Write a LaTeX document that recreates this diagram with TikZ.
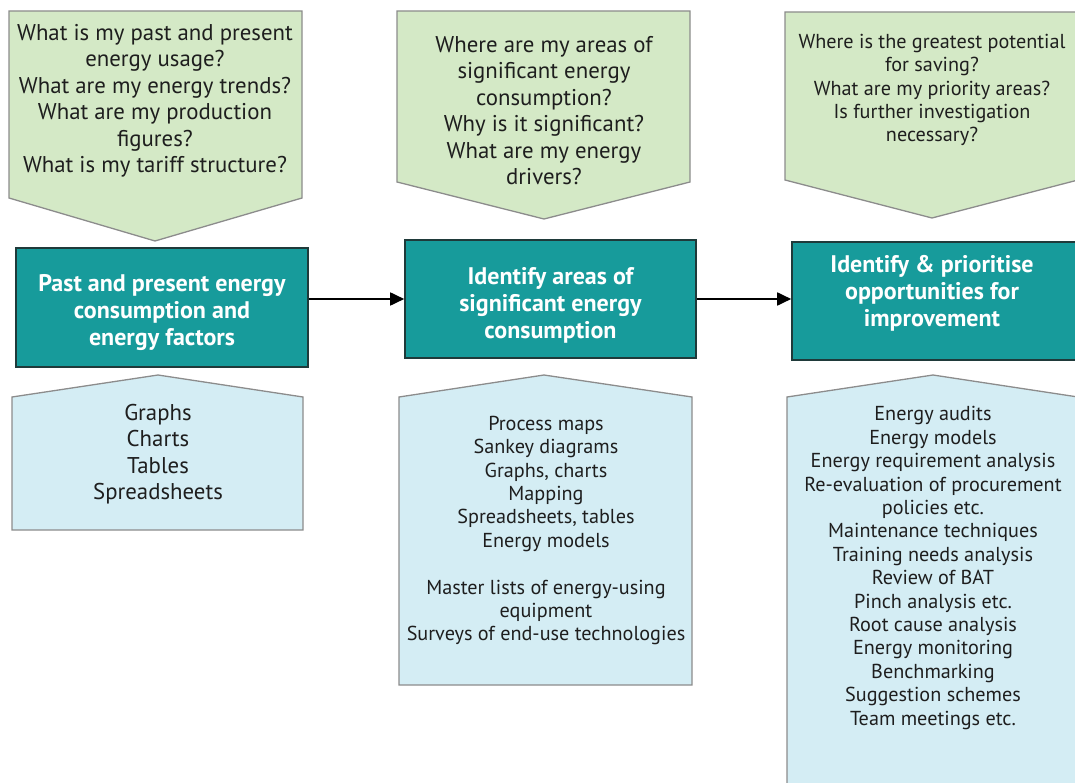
\documentclass[tikz,border=0pt]{standalone}
\usepackage{fontspec}
\setmainfont{PT Sans}
\usetikzlibrary{arrows.meta}
\definecolor{qgreen}{HTML}{D4E9C6}
\definecolor{toolblue}{HTML}{D4EDF4}
\definecolor{edgegray}{HTML}{8C8C8C}
\definecolor{stepteal}{HTML}{179B9B}
\definecolor{tealedge}{HTML}{1F3A3A}
\definecolor{inkgray}{HTML}{1E1E1E}
\begin{document}
\begin{tikzpicture}[x=1pt,y=-1pt,
  qshape/.style={fill=qgreen,draw=edgegray,line width=1.3pt,line join=miter},
  tshape/.style={fill=toolblue,draw=edgegray,line width=1.3pt,line join=miter},
  stepbox/.style={fill=stepteal,draw=tealedge,line width=1.6pt,inner sep=0pt},
  steptext/.style={text=white,align=center,inner sep=0pt,font=\bfseries\fontsize{24}{27}\selectfont},
  bigtext/.style={text=inkgray,align=center,inner sep=0pt,font=\fontsize{22.8}{26.5}\selectfont},
  smalltext/.style={text=inkgray,align=center,inner sep=0pt,font=\fontsize{20.2}{23.4}\selectfont},
  flow/.style={line width=1.8pt,-{Triangle[length=14pt,width=13pt]}}]
\useasboundingbox (0,0) rectangle (1075,783);

% question shapes (pointing down)
\draw[qshape] (9,11) -- (302,11) -- (302,198) -- (155,241) -- (9,198) -- cycle;
\draw[qshape] (397,11) -- (690,11) -- (690,182) -- (544,219) -- (397,182) -- cycle;
\draw[qshape] (785,12) -- (1078,12) -- (1078,180) -- (932,218) -- (785,180) -- cycle;

% tool shapes (pointing up)
\draw[tshape] (12,397) -- (158,375) -- (303,397) -- (303,530) -- (12,530) -- cycle;
\draw[tshape] (399,397) -- (544,375) -- (692,397) -- (692,685) -- (399,685) -- cycle;
\draw[tshape] (787,397) -- (933,375) -- (1078,397) -- (1078,790) -- (787,790) -- cycle;

% question texts
\node[bigtext] (q1) at (155,101) {What is my past and present\\energy usage?\\What are my energy trends?\\What are my production\\figures?\\What is my tariff structure?};
\node[bigtext] (q2) at (544,110.5) {Where are my areas of\\significant energy\\consumption?\\Why is it significant?\\What are my energy\\drivers?};
\node[smalltext] (q3) at (932,90) {Where is the greatest potential\\for saving?\\What are my priority areas?\\Is further investigation\\necessary?};

% process steps
\node[stepbox,minimum width=292pt,minimum height=119pt] (s1) at (162,307.5) {};
\node[stepbox,minimum width=291pt,minimum height=118pt] (s2) at (550.5,299) {};
\node[stepbox,minimum width=291pt,minimum height=118pt] (s3) at (937.5,301) {};
\node[steptext] (s1t) at (162,313) {Past and present energy\\consumption and\\energy factors};
\node[steptext] (s2t) at (550.5,305) {Identify areas of\\significant energy\\consumption};
\node[steptext] (s3t) at (932,293) {Identify \& prioritise\\opportunities for\\improvement};

\draw[flow] (s1.east |- s2.west) -- (s2.west);
\draw[flow] (s2.east) -- (s3.west |- s2.east);

% tool texts
\node[bigtext] (b1) at (158,454) {Graphs\\Charts\\Tables\\Spreadsheets};
\node[smalltext] (b2) at (546,530.5) {Process maps\\Sankey diagrams\\Graphs, charts\\Mapping\\Spreadsheets, tables\\Energy models\\[23.4pt]Master lists of energy-using\\equipment\\Surveys of end-use technologies};
\node[smalltext] (b3) at (933,568) {Energy audits\\Energy models\\Energy requirement analysis\\Re-evaluation of procurement\\policies etc.\\Maintenance techniques\\Training needs analysis\\Review of BAT\\Pinch analysis etc.\\Root cause analysis\\Energy monitoring\\Benchmarking\\Suggestion schemes\\Team meetings etc.};
\end{tikzpicture}
\end{document}
